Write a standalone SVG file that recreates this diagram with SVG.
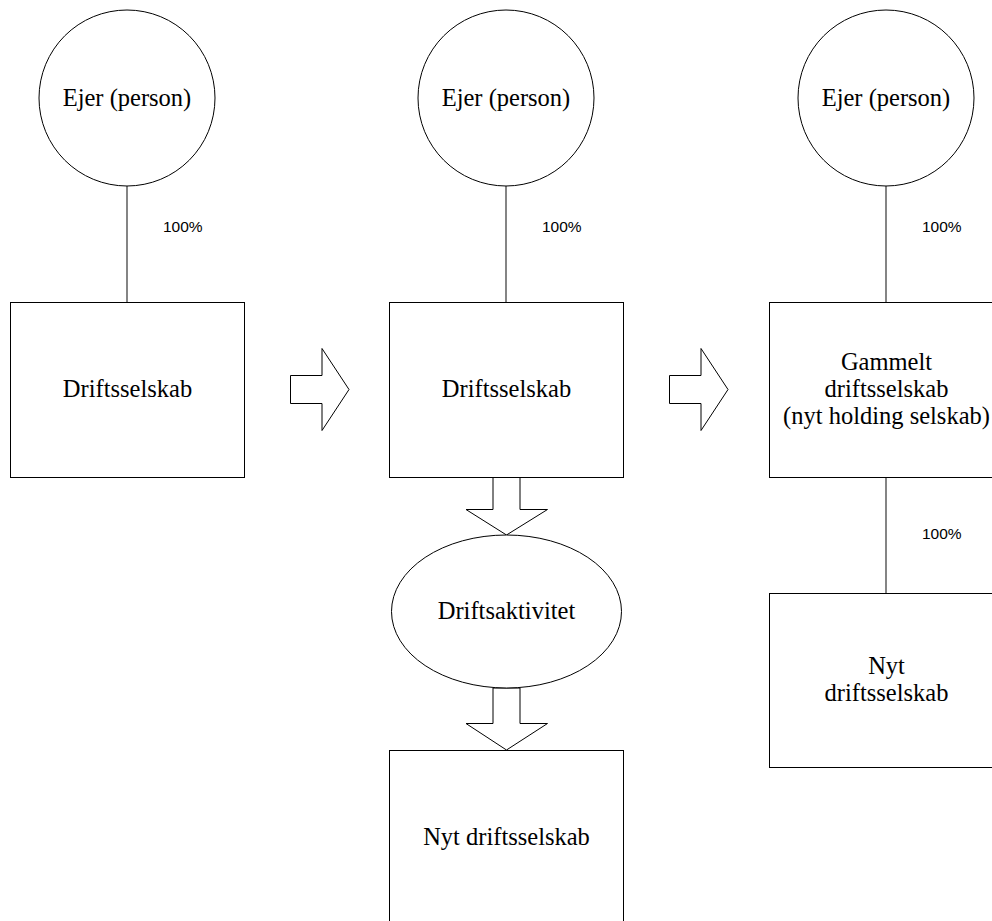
<svg xmlns="http://www.w3.org/2000/svg" width="992" height="921" viewBox="0 0 992 921">
  <style>
    .shape { fill: #ffffff; stroke: #000000; stroke-width: 1; }
    .link { fill: none; stroke: #333333; stroke-width: 1.2; }
    .block { fill: #ffffff; stroke: #000000; stroke-width: 1; stroke-linejoin: miter; }
    .label { font-family: "Liberation Serif", "Times New Roman", serif; font-size: 24.5px; fill: #000000; text-anchor: middle; }
    .pct { font-family: "Liberation Sans", Arial, sans-serif; font-size: 15.5px; fill: #000000; }
  </style>
  <rect x="0" y="0" width="992" height="921" fill="#ffffff"/>

  <!-- ownership lines, percentages and block arrows -->
  <g id="connectors">
    <line class="link" x1="127" y1="186" x2="127" y2="302"/>
    <line class="link" x1="506" y1="186" x2="506" y2="302"/>
    <line class="link" x1="886" y1="186" x2="886" y2="302"/>
    <line class="link" x1="886" y1="477" x2="886" y2="593"/>
    <text class="pct" x="163" y="232">100%</text>
    <text class="pct" x="542" y="232">100%</text>
    <text class="pct" x="922" y="232">100%</text>
    <text class="pct" x="922" y="539">100%</text>
    <polygon class="block" points="290.5,375.5 322,375.5 322,348.5 349,389.5 322,430.5 322,403.5 290.5,403.5"/>
    <polygon class="block" points="669.5,375.5 701,375.5 701,348.5 728,389.5 701,430.5 701,403.5 669.5,403.5"/>
    <polygon class="block" points="493,477.5 520,477.5 520,509.5 547.5,509.5 506.5,535 466,509.5 493,509.5"/>
    <polygon class="block" points="493,688 520,688 520,723.5 547.5,723.5 506.5,750 466,723.5 493,723.5"/>
  </g>

  <!-- stage 1 -->
  <g id="owner-1">
    <circle class="shape" cx="127" cy="98" r="88"/>
    <text class="label" x="127" y="106">Ejer (person)</text>
  </g>
  <g id="company-1">
    <rect class="shape" x="10.5" y="302.5" width="234" height="175"/>
    <text class="label" x="127.5" y="396.5">Driftsselskab</text>
  </g>

  <!-- stage 2 -->
  <g id="owner-2">
    <circle class="shape" cx="506" cy="98" r="88"/>
    <text class="label" x="506" y="106">Ejer (person)</text>
  </g>
  <g id="company-2">
    <rect class="shape" x="389.5" y="302.5" width="234" height="175"/>
    <text class="label" x="506.5" y="396.5">Driftsselskab</text>
  </g>
  <g id="activity">
    <ellipse class="shape" cx="506.5" cy="611.5" rx="115" ry="76.5"/>
    <text class="label" x="506.5" y="619">Driftsaktivitet</text>
  </g>
  <g id="new-company-2">
    <rect class="shape" x="389.5" y="750.5" width="234" height="200"/>
    <text class="label" x="506.5" y="845">Nyt driftsselskab</text>
  </g>

  <!-- stage 3 -->
  <g id="owner-3">
    <circle class="shape" cx="886" cy="98" r="88"/>
    <text class="label" x="886" y="106">Ejer (person)</text>
  </g>
  <g id="holding">
    <rect class="shape" x="769.5" y="302.5" width="234" height="175"/>
    <text class="label" x="886.5" y="370">Gammelt</text>
    <text class="label" x="886.5" y="397">driftsselskab</text>
    <text class="label" x="886.5" y="424">(nyt holding selskab)</text>
  </g>
  <g id="new-company-3">
    <rect class="shape" x="769.5" y="593.5" width="234" height="174"/>
    <text class="label" x="886.5" y="673.5">Nyt</text>
    <text class="label" x="886.5" y="700.5">driftsselskab</text>
  </g>
</svg>
